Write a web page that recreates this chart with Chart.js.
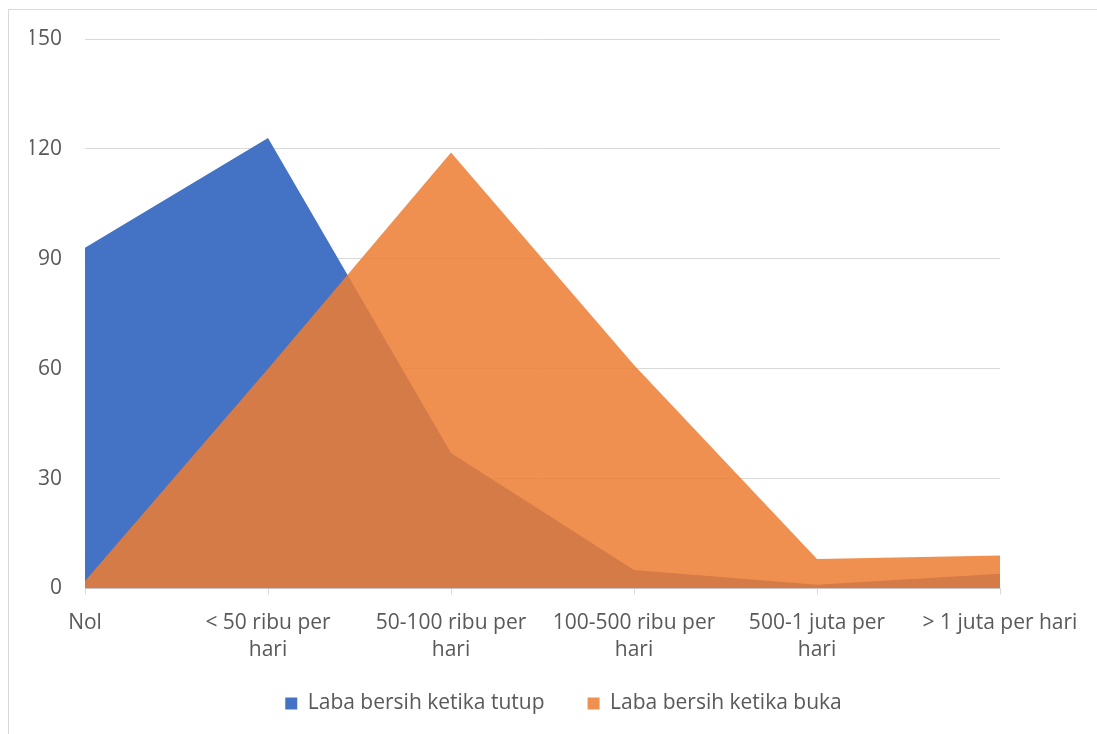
<!doctype html>
<html lang="id">
  <head>
    <title>Laba bersih</title>
    <script src="https://cdn.jsdelivr.net/npm/chart.js@4/dist/chart.umd.min.js"></script>
    <style>
      html, body { margin: 0; padding: 0; background: #fff; }
      #wrap { width: 1097px; height: 734px; position: relative; }
    </style>
  </head>
  <body>
    <div id="wrap"><canvas id="myChart"></canvas></div>
    <script>
      const categories = [
        'Nol',
        ['< 50 ribu per', 'hari'],
        ['50-100 ribu per', 'hari'],
        ['100-500 ribu per', 'hari'],
        ['500-1 juta per', 'hari'],
        '> 1 juta per hari'
      ];
      const labaTutup = [93, 123, 37, 5, 1, 4];
      const labaBuka = [2, 60, 119, 61, 8, 9];
      const yTicks = [0, 30, 60, 90, 120, 150];

      const textColor = '#595959';
      const lineColor = '#d9d9d9';
      const font = { family: '"Open Sans", "Noto Sans", sans-serif', size: 21, lineHeight: 1.3 };

      // light frame round the chart, like the original export
      const frame = {
        id: 'frame',
        beforeDraw(chart) {
          const ctx = chart.ctx;
          ctx.save();
          ctx.strokeStyle = lineColor;
          ctx.lineWidth = 1;
          ctx.strokeRect(8.5, 9.5, 1200, 1000);
          ctx.restore();
        }
      };

      // the legend padding also sets the gap between items; pull the row back up
      const legendShift = {
        id: 'legendShift',
        afterLayout(chart) {
          if (chart.legend) {
            chart.legend.top -= 29;
            chart.legend.bottom -= 29;
          }
        }
      };

      new Chart(document.getElementById('myChart'), {
        type: 'line',
        data: {
          labels: categories,
          datasets: [
            {
              label: 'Laba bersih ketika tutup',
              data: labaTutup,
              backgroundColor: '#4472C4',
              borderColor: '#4472C4',
              borderWidth: 0,
              fill: 'origin',
              order: 1
            },
            {
              label: 'Laba bersih ketika buka',
              data: labaBuka,
              backgroundColor: 'rgba(237,125,49,0.85)',
              borderColor: 'rgba(237,125,49,0.85)',
              borderWidth: 0,
              fill: 'origin',
              order: 0
            }
          ]
        },
        options: {
          responsive: true,
          maintainAspectRatio: false,
          animation: false,
          elements: { point: { radius: 0, hoverRadius: 0 }, line: { tension: 0 } },
          layout: { padding: { top: 39, right: 0, left: 30, bottom: -19 } },
          plugins: {
            tooltip: { enabled: false },
            legend: {
              position: 'bottom',
              labels: {
                color: textColor,
                font: font,
                boxWidth: 12,
                boxHeight: 12,
                padding: 43,
                sort: (a, b) => a.datasetIndex - b.datasetIndex
              }
            }
          },
          scales: {
            x: {
              offset: false,
              grid: { drawOnChartArea: false, color: lineColor, tickLength: 6 },
              border: { color: lineColor },
              ticks: { color: textColor, font: font, maxRotation: 0, autoSkip: false, padding: 15 }
            },
            y: {
              min: 0,
              max: 150,
              afterFit(axis) { axis.width = 55; },
              afterBuildTicks(axis) { axis.ticks = yTicks.map(v => ({ value: v })); },
              grid: { color: lineColor, drawTicks: false },
              border: { display: false },
              ticks: { color: textColor, font: font, padding: 23 }
            },
            // empty right-hand spacer so the plot ends where the original does
            spacer: {
              type: 'linear',
              position: 'right',
              afterFit(axis) { axis.width = 97; },
              grid: { display: false },
              border: { display: false },
              ticks: { display: false }
            }
          }
        },
        plugins: [frame, legendShift]
      });
    </script>
  </body>
</html>
